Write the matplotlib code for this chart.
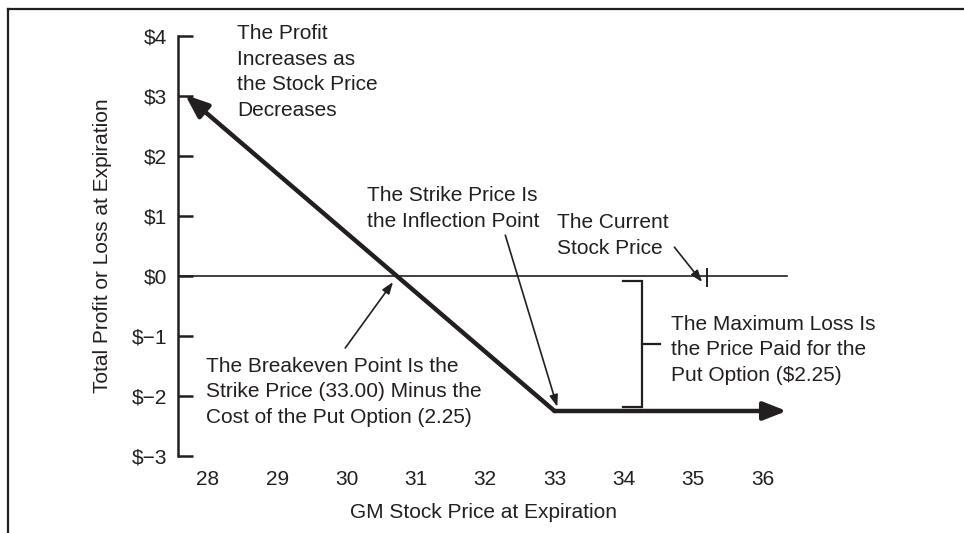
import matplotlib.pyplot as plt
from matplotlib.lines import Line2D

plt.rcParams['font.family'] = ['Liberation Sans', 'DejaVu Sans']

INK = '#231f20'

# --- DATA ---
stock_ticks = [28, 29, 30, 31, 32, 33, 34, 35, 36]
profit_ticks = [-3, -2, -1, 0, 1, 2, 3, 4]
profit_labels = ['$\u22123', '$\u22122', '$\u22121', '$0', '$1', '$2', '$3', '$4']

# long put payoff: left tip, strike, right tip
payoff_x = [27.67, 33.0, 36.35]
payoff_y = [3.02, -2.25, -2.25]

current_price = 35.2
zero_line_end = 36.35
max_loss_top, max_loss_bottom = -0.08, -2.18

# --- FIGURE ---
fig = plt.figure(figsize=(9.64, 5.33), dpi=100)
ax = fig.add_axes([178 / 964, 1 - 456 / 533, 722 / 964, 420 / 533])
ax.set_xlim(27.567, 37.985)
ax.set_ylim(-3, 4)

for s in ['top', 'right', 'bottom']:
    ax.spines[s].set_visible(False)
ax.spines['left'].set_linewidth(1.8)
ax.spines['left'].set_color(INK)

fs = 15
ax.set_yticks(profit_ticks)
ax.set_yticklabels(profit_labels)
ax.set_xticks(stock_ticks)
ax.tick_params(axis='y', direction='in', length=10.8, width=1.8, color=INK,
               pad=7.9, labelsize=fs, labelcolor=INK)
ax.tick_params(axis='x', length=0, pad=10, labelsize=fs, labelcolor=INK)

# zero line
ax.plot([ax.get_xlim()[0], zero_line_end], [0, 0], color=INK, lw=1.2)
# current stock price marker
ax.plot([current_price, current_price], [0.12, -0.17], color=INK, lw=1.4)

# payoff line with arrowheads
heavy = dict(arrowstyle='-|>,head_length=14,head_width=5.5', mutation_scale=1,
             lw=3.2, color=INK, shrinkA=0, shrinkB=0, capstyle='round')
ax.annotate('', xy=(payoff_x[0], payoff_y[0]), xytext=(payoff_x[1], payoff_y[1]),
            arrowprops=heavy)
ax.annotate('', xy=(payoff_x[2], payoff_y[2]), xytext=(payoff_x[1], payoff_y[1]),
            arrowprops=heavy)

# bracket for maximum loss
bx, bl, br = 34.26, 33.99, 34.52
ax.plot([bl, bx, bx, bl], [max_loss_top, max_loss_top, max_loss_bottom, max_loss_bottom],
        color=INK, lw=1.6, solid_joinstyle='miter')
mid = (max_loss_top + max_loss_bottom) / 2
ax.plot([bx, br], [mid, mid], color=INK, lw=1.6)

# annotations
ls = 1.45
thin = dict(arrowstyle='-|>,head_length=7,head_width=2.5', mutation_scale=1,
            lw=1.2, color=INK, shrinkA=0, shrinkB=0)
ax.text(28.42, 3.40, 'The Profit\nIncreases as\nthe Stock Price\nDecreases',
        fontsize=fs, color=INK, va='center', ha='left', linespacing=ls)
ax.text(30.294, 1.13, 'The Strike Price Is\nthe Inflection Point',
        fontsize=fs, color=INK, va='center', ha='left', linespacing=ls)
ax.annotate('', xy=(33.04, -2.18), xytext=(32.29, 0.68), arrowprops=thin)
ax.text(33.04, 0.67, 'The Current\nStock Price',
        fontsize=fs, color=INK, va='center', ha='left', linespacing=ls)
ax.annotate('', xy=(35.13, -0.1), xytext=(34.73, 0.48), arrowprops=thin)
ax.text(27.97, -1.93, 'The Breakeven Point Is the\nStrike Price (33.00) Minus the\n'
        'Cost of the Put Option (2.25)',
        fontsize=fs, color=INK, va='center', ha='left', linespacing=ls)
ax.annotate('', xy=(30.67, -0.1), xytext=(29.98, -1.2), arrowprops=thin)
ax.text(34.68, -1.23, 'The Maximum Loss Is\nthe Price Paid for the\nPut Option ($2.25)',
        fontsize=fs, color=INK, va='center', ha='left', linespacing=ls)

# axis titles
fig.text(103 / 964, 1 - 246 / 533, 'Total Profit or Loss at Expiration', rotation=90,
         ha='center', va='center', fontsize=fs, color=INK)
fig.text(483 / 964, 1 - 512 / 533, 'GM Stock Price at Expiration',
         ha='center', va='center', fontsize=fs, color=INK)

# page frame (top and left only)
fig.add_artist(Line2D([8 / 964, 1], [1 - 9 / 533, 1 - 9 / 533], color=INK, lw=1.6,
                      transform=fig.transFigure))
fig.add_artist(Line2D([8 / 964, 8 / 964], [0, 1 - 9 / 533], color=INK, lw=1.6,
                      transform=fig.transFigure))

fig.savefig('out.png', dpi=100)
